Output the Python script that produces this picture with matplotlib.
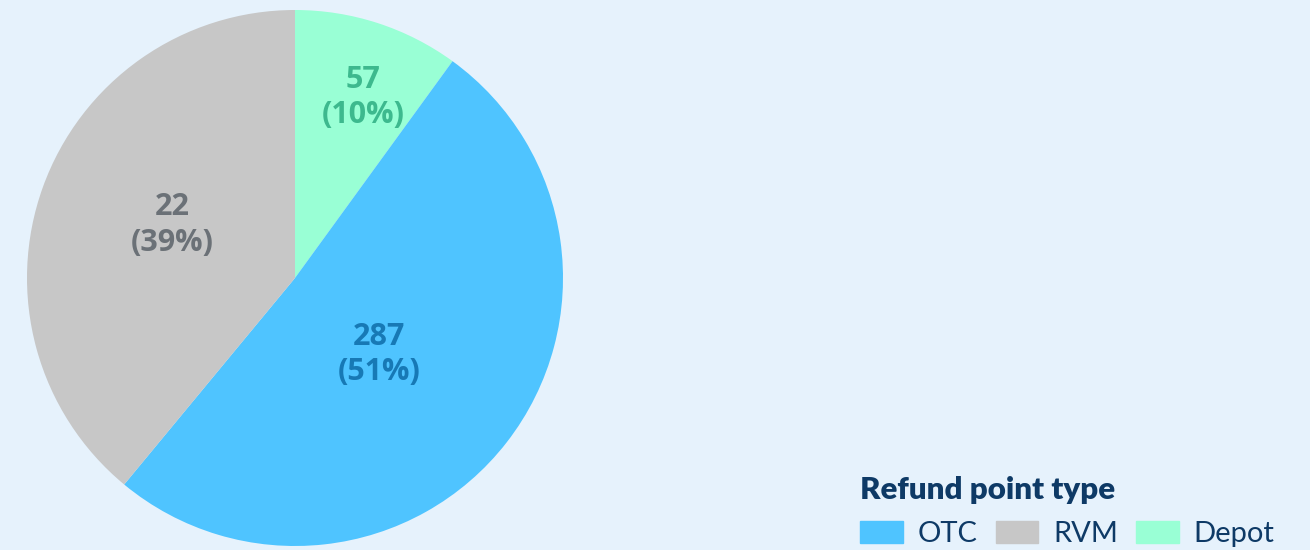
import matplotlib
matplotlib.use("Agg")
import matplotlib.pyplot as plt
import numpy as np

categories = ["Depot", "OTC", "RVM"]
shares = [10, 51, 39]
value_labels = ["57", "287", "22"]
pct_labels = ["10%", "51%", "39%"]
legend_order = ["OTC", "RVM", "Depot"]

colors = {"OTC": "#4FC4FF", "RVM": "#C7C7C7", "Depot": "#99FFD5"}
text_colors = {"OTC": "#1779B5", "RVM": "#6B7177", "Depot": "#3DB98E"}
label_radius = {"OTC": 0.425, "RVM": 0.50, "Depot": 0.72}
label_angle_shift = {"OTC": -4.5, "RVM": -3.5, "Depot": -2.6}
bg = "#E6F2FC"

W, H = 1310, 550
fig = plt.figure(figsize=(W / 100, H / 100), dpi=100, facecolor=bg)
cx, cy_top, R = 295, 278, 268
cy = H - cy_top
ax = fig.add_axes([(cx - R) / W, (cy - R) / H, 2 * R / W, 2 * R / H])
ax.set_facecolor(bg)

wedges, _ = ax.pie(shares, colors=[colors[c] for c in categories], startangle=90,
                   counterclock=False, radius=1.0,
                   wedgeprops=dict(linewidth=0))
ax.set_xlim(-1, 1)
ax.set_ylim(-1, 1)
ax.set_aspect("equal")
ax.axis("off")

for w, cat, v, p in zip(wedges, categories, value_labels, pct_labels):
    mid = np.deg2rad((w.theta1 + w.theta2) / 2 + label_angle_shift[cat])
    r = label_radius[cat]
    ax.text(r * np.cos(mid), r * np.sin(mid), f"{v}\n({p})", ha="center", va="center",
            fontsize=22, fontweight="bold", family="Open Sans", color=text_colors[cat],
            linespacing=1.22)

handles = [plt.Rectangle((0, 0), 1, 1, color=colors[c]) for c in legend_order]
leg = fig.legend(handles, legend_order, loc="upper left",
                 bbox_to_anchor=(860 / W, 1 - 476 / H), ncol=3, frameon=False,
                 title="Refund point type", borderpad=0, borderaxespad=0,
                 handlelength=1.47, handleheight=0.8, handletextpad=0.5,
                 columnspacing=0.62, labelspacing=0.3,
                 prop=dict(family="Lato", size=21, weight="normal"),
                 title_fontproperties=dict(family="Lato", size=22.5, weight="heavy"))
leg._legend_box.align = "left"
leg._legend_box.sep = 12
leg.get_title().set_color("#0E3A66")
for t in leg.get_texts():
    t.set_color("#0E3A66")

fig.savefig("out.png", dpi=100, facecolor=bg)
